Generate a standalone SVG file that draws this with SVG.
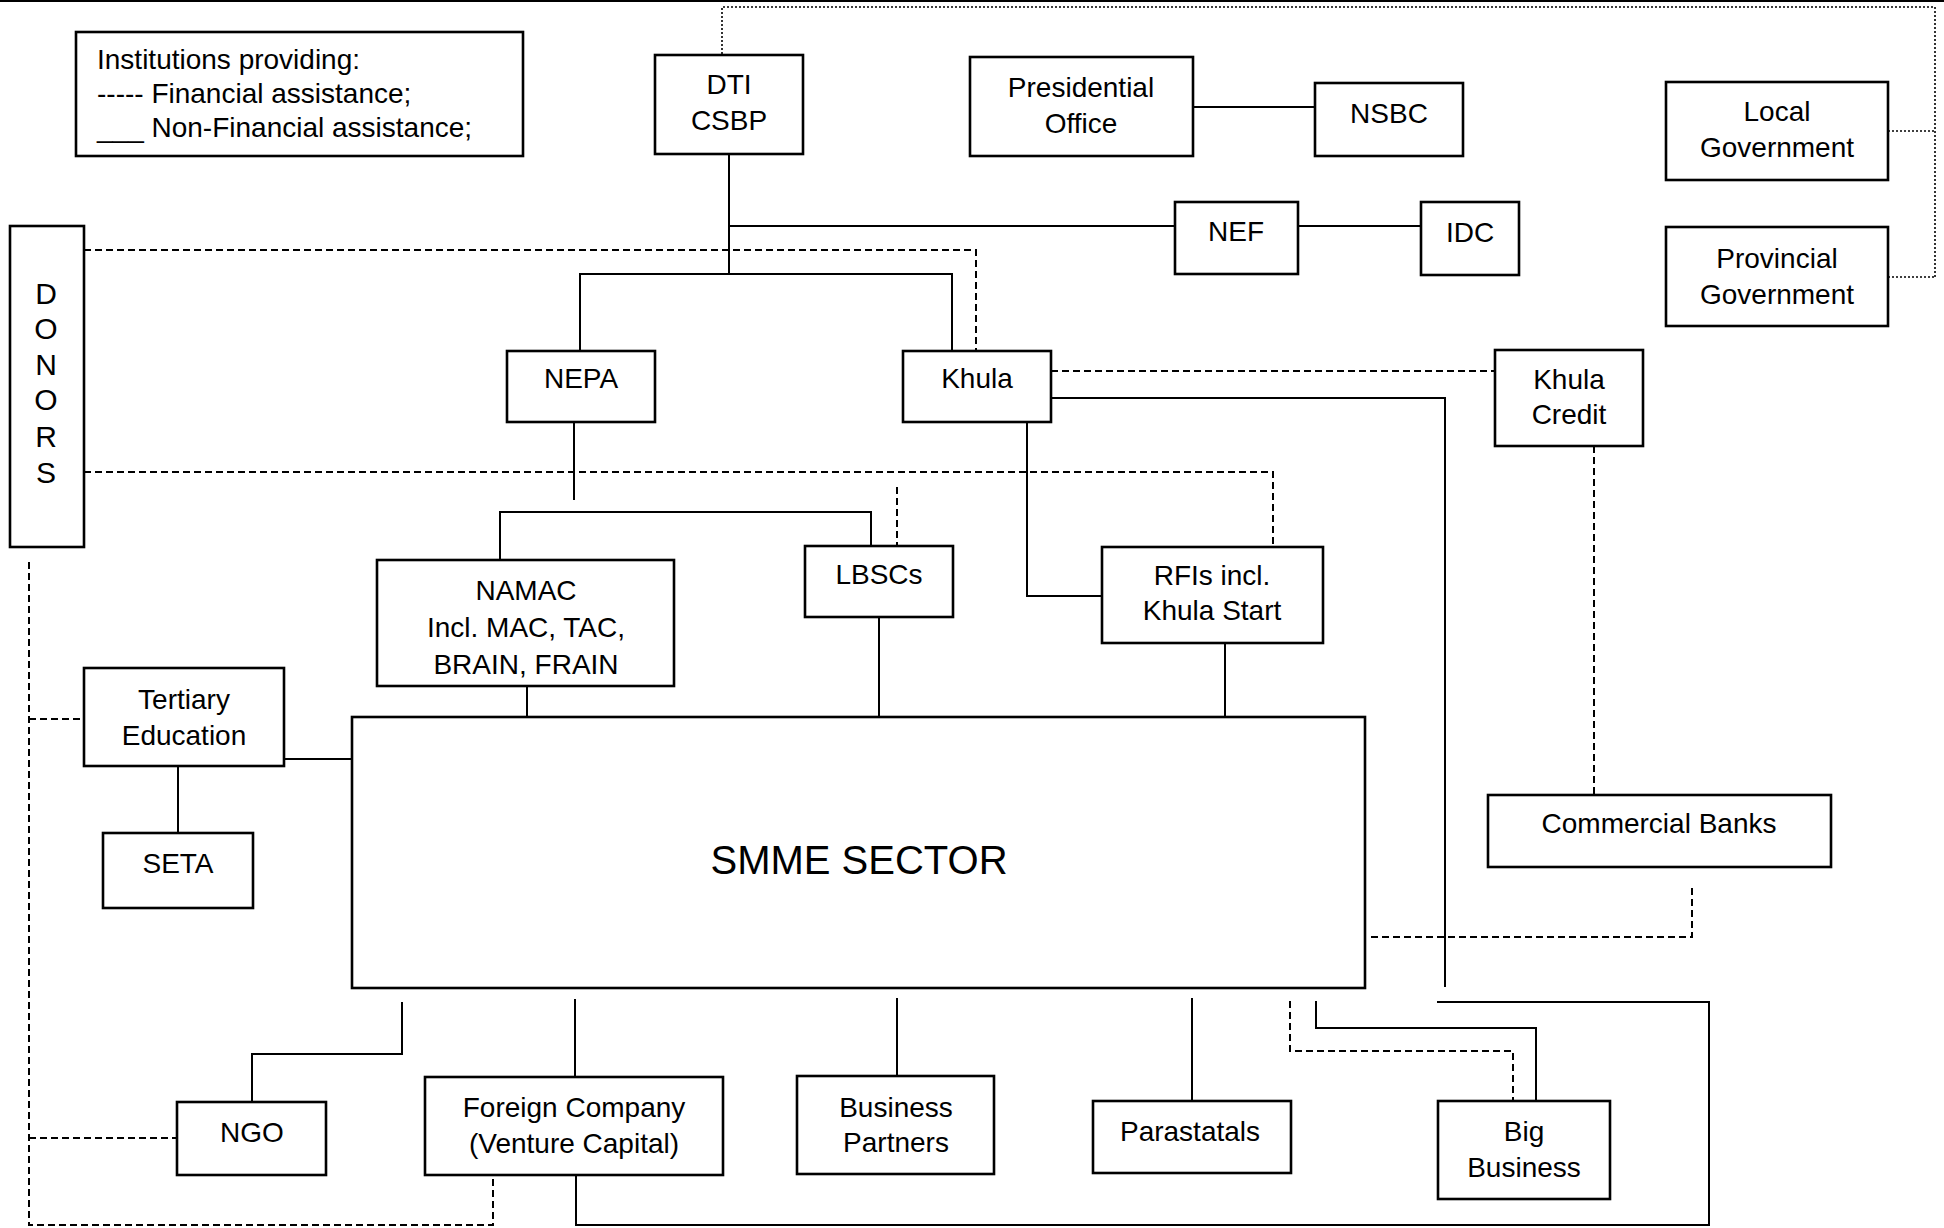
<svg xmlns="http://www.w3.org/2000/svg" width="1944" height="1228" viewBox="0 0 1944 1228">
<style>
.box{fill:#fff;stroke:#000;stroke-width:2.6}
.t{font-family:"Liberation Sans",Arial,sans-serif;font-size:28px;fill:#000;text-anchor:middle}
.lg{font-family:"Liberation Sans",Arial,sans-serif;font-size:28px;fill:#000}
.s{fill:none;stroke:#000;stroke-width:2}
.d{fill:none;stroke:#000;stroke-width:2;stroke-dasharray:7 4}
.dot{fill:none;stroke:#000;stroke-width:1.6;stroke-dasharray:2 2}
</style>
<rect x="0" y="0" width="1944" height="1228" fill="#fff"/>
<line x1="0" y1="1" x2="1944" y2="1" stroke="#000" stroke-width="2"/>
<g id="connectors">
<path class="dot" d="M722,54 V7 H1935 V277 M1888,131 H1935 M1888,277 H1935"/>
<path class="s" d="M729,154 V274 M729,226 H1175 M1298,226 H1421 M1193,107 H1315"/>
<path class="s" d="M580,351 V274 H952 V351"/>
<path class="d" d="M84,250 H976 V351"/>
<path class="s" d="M574,422 V500 M500,560 V512 H871 V546"/>
<path class="d" d="M84,472 H1273 V547 M897,487 V546"/>
<path class="s" d="M1027,422 V596 H1102"/>
<path class="s" d="M1051,398 H1445 V987"/>
<path class="d" d="M1051,371 H1495 M1594,446 V815 M1692,888 V937 H1370"/>
<path class="s" d="M879,617 V717 M1225,643 V717 M527,686 V717 M284,759 H352 M178,766 V833"/>
<path class="d" d="M29,562 V1225 H493 V1175 M29,719 H84 M29,1138 H177"/>
<path class="s" d="M402,1002 V1054 H252 V1102 M575,999 V1077 M897,998 V1076 M1192,998 V1101"/>
<path class="s" d="M1316,1001 V1028 H1536 V1101"/>
<path class="d" d="M1290,1001 V1051 H1513 V1101"/>
<path class="s" d="M576,1175 V1225 H1709 V1002 H1437"/>
</g>
<g id="legend">
<rect class="box" x="76" y="32" width="447" height="124"/>
<text class="lg" x="97" y="69">Institutions providing:</text>
<text class="lg" x="97" y="103">----- Financial assistance;</text>
<text class="lg" x="97" y="137">___ Non-Financial assistance;</text>
</g>
<g id="dti"><rect class="box" x="655" y="55" width="148" height="99"/><text class="t" x="729" y="94">DTI</text><text class="t" x="729" y="130">CSBP</text></g>
<g id="presidential"><rect class="box" x="970" y="57" width="223" height="99"/><text class="t" x="1081" y="97">Presidential</text><text class="t" x="1081" y="133">Office</text></g>
<g id="nsbc"><rect class="box" x="1315" y="83" width="148" height="73"/><text class="t" x="1389" y="123">NSBC</text></g>
<g id="local"><rect class="box" x="1666" y="82" width="222" height="98"/><text class="t" x="1777" y="121">Local</text><text class="t" x="1777" y="157">Government</text></g>
<g id="provincial"><rect class="box" x="1666" y="227" width="222" height="99"/><text class="t" x="1777" y="268">Provincial</text><text class="t" x="1777" y="304">Government</text></g>
<g id="nef"><rect class="box" x="1175" y="202" width="123" height="72"/><text class="t" x="1236" y="241">NEF</text></g>
<g id="idc"><rect class="box" x="1421" y="202" width="98" height="73"/><text class="t" x="1470" y="242">IDC</text></g>
<g id="donors"><rect class="box" x="10" y="226" width="74" height="321"/>
<text class="t" style="font-size:30px" x="46" y="304">D</text>
<text class="t" style="font-size:30px" x="46" y="339">O</text>
<text class="t" style="font-size:30px" x="46" y="375">N</text>
<text class="t" style="font-size:30px" x="46" y="410">O</text>
<text class="t" style="font-size:30px" x="46" y="447">R</text>
<text class="t" style="font-size:30px" x="46" y="483">S</text></g>
<g id="nepa"><rect class="box" x="507" y="351" width="148" height="71"/><text class="t" x="581" y="388">NEPA</text></g>
<g id="khula"><rect class="box" x="903" y="351" width="148" height="71"/><text class="t" x="977" y="388">Khula</text></g>
<g id="khulacredit"><rect class="box" x="1495" y="350" width="148" height="96"/><text class="t" x="1569" y="389">Khula</text><text class="t" x="1569" y="424">Credit</text></g>
<g id="namac"><rect class="box" x="377" y="560" width="297" height="126"/><text class="t" x="526" y="600">NAMAC</text><text class="t" x="526" y="637">Incl. MAC, TAC,</text><text class="t" x="526" y="674">BRAIN, FRAIN</text></g>
<g id="lbscs"><rect class="box" x="805" y="546" width="148" height="71"/><text class="t" x="879" y="584">LBSCs</text></g>
<g id="rfis"><rect class="box" x="1102" y="547" width="221" height="96"/><text class="t" x="1212" y="585">RFIs incl.</text><text class="t" x="1212" y="620">Khula Start</text></g>
<g id="tertiary"><rect class="box" x="84" y="668" width="200" height="98"/><text class="t" x="184" y="709">Tertiary</text><text class="t" x="184" y="745">Education</text></g>
<g id="seta"><rect class="box" x="103" y="833" width="150" height="75"/><text class="t" x="178" y="873">SETA</text></g>
<g id="smme"><rect class="box" x="352" y="717" width="1013" height="271"/><text class="t" style="font-size:40px" x="859" y="874">SMME SECTOR</text></g>
<g id="commercialbanks"><rect class="box" x="1488" y="795" width="343" height="72"/><text class="t" x="1659" y="833">Commercial Banks</text></g>
<g id="ngo"><rect class="box" x="177" y="1102" width="149" height="73"/><text class="t" x="252" y="1142">NGO</text></g>
<g id="foreign"><rect class="box" x="425" y="1077" width="298" height="98"/><text class="t" x="574" y="1117">Foreign Company</text><text class="t" x="574" y="1153">(Venture Capital)</text></g>
<g id="businesspartners"><rect class="box" x="797" y="1076" width="197" height="98"/><text class="t" x="896" y="1117">Business</text><text class="t" x="896" y="1152">Partners</text></g>
<g id="parastatals"><rect class="box" x="1093" y="1101" width="198" height="72"/><text class="t" x="1190" y="1141">Parastatals</text></g>
<g id="bigbusiness"><rect class="box" x="1438" y="1101" width="172" height="98"/><text class="t" x="1524" y="1141">Big</text><text class="t" x="1524" y="1177">Business</text></g>
</svg>
